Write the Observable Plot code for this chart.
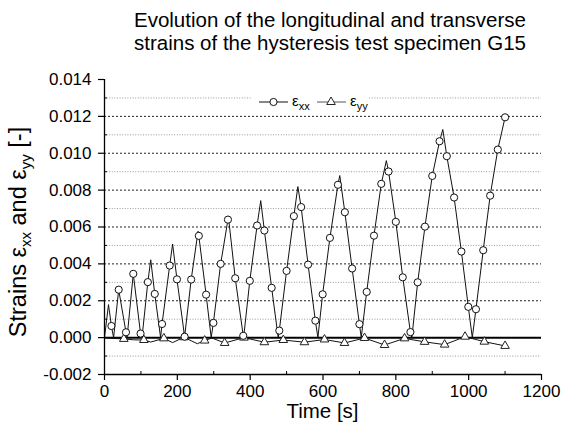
<!DOCTYPE html>
<html><head><meta charset="utf-8">
<script src="https://cdn.jsdelivr.net/npm/d3@7"></script>
<script src="https://cdn.jsdelivr.net/npm/@observablehq/plot@0.6"></script>
<style>
body{margin:0;background:#fff;font-family:"Liberation Sans",Arial,sans-serif;color:#000;}
#wrap{position:relative;width:561px;height:434px;overflow:hidden;}
#title{height:60px;box-sizing:border-box;padding-top:8px;padding-left:99px;width:561px;text-align:center;font-size:20.5px;line-height:23px;}
#xlabel{position:absolute;left:104px;width:437px;top:401px;text-align:center;font-size:20.5px;line-height:20px;}
#ylabel{position:absolute;left:19px;top:232px;transform:translate(-50%,-50%) rotate(-90deg);white-space:nowrap;font-size:23.5px;}
#ylabel sub{font-size:15px;vertical-align:-5px;}
#legend{position:absolute;left:252px;top:92px;width:117px;height:20px;background:#fff;}
svg text{font-family:"Liberation Sans",Arial,sans-serif;}
</style></head>
<body>
<div id="wrap">
<div id="title">Evolution of the longitudinal and transverse<br>strains of the hysteresis test specimen G15</div>
<div id="chart"></div>
<div id="xlabel">Time [s]</div>
<div id="ylabel">Strains ε<sub>xx</sub> and ε<sub>yy</sub> [-]</div>
<div id="legend"></div>
</div>
<script>
// ε_xx: samples drawn with a circle marker
const xxMarkT = [19,39,59,79,99,119,138,158,179,199,220,238,259,279,299,319,339,359,381,399,419,439,459,480,500,520,540,559,579,599,619,641,660,680,700,720,740,760,780,800,819,840,860,880,900,920,940,960,980,999,1020,1040,1059,1080,1100];
const xxMarkV = [0.00063,0.0026,0.00029,0.00346,0.00022,0.00301,0.00237,0.00074,0.00391,0.00316,0.00005,0.00315,0.00552,0.00233,0.0008,0.004,0.0064,0.00322,0.0001,0.00308,0.00608,0.00581,0.0027,0.00038,0.00362,0.00659,0.00708,0.00396,0.00092,0.00235,0.00541,0.00829,0.0068,0.00375,0.00073,0.00248,0.00553,0.00834,0.00901,0.00628,0.00327,0.0003,0.003,0.00602,0.00877,0.01065,0.00984,0.0076,0.00467,0.00167,0.00154,0.00474,0.0077,0.0102,0.01195];
// ε_xx: unmarked samples (peaks and troughs)
const xxVertT = [0,11,25,62,103,127,154,187,257,293,340,382,429,477,531,586,646,705,774,844,929,1010];
const xxVertV = [0,0.00179,0,0,0,0.00422,0,0.00508,0.00577,0,0.0066,0,0.00743,0,0.00819,0,0.00879,0,0.0096,0,0.01129,0];
// ε_yy: samples drawn with a triangle marker
const yyMarkT = [53,108,163,218,275,330,383,439,491,549,604,659,714,769,824,879,934,990,1043,1100];
const yyMarkV = [-0.00007,-0.00013,-0.00004,0.00002,-0.00016,-0.00029,0,-0.00025,-0.00013,-0.00025,-0.0001,-0.00029,-0.00002,-0.0004,-0.00004,-0.00023,-0.00038,0.00005,-0.00022,-0.00045];
// ε_yy: unmarked samples
const yyVertT = [0,20,80,127,187,255,295];
const yyVertV = [0,-0.00004,-0.00012,-0.00024,-0.00027,-0.00033,-0.00002];

const xTicks = [0,200,400,600,800,1000,1200];
const xMinor = [100,300,500,700,900,1100];
const yTicks = [-0.002,0,0.002,0.004,0.006,0.008,0.010,0.012,0.014];
const yMinor = [-0.001,0.001,0.003,0.005,0.007,0.009,0.011,0.013];
const yMajorGrid = [0.002,0.004,0.006,0.008,0.010,0.012];

const zip = (T, V) => T.map((t, i) => ({t, v: V[i]}));
const xxMarks = zip(xxMarkT, xxMarkV);
const xxLine = [...xxMarks, ...zip(xxVertT, xxVertV)].sort((a, b) => a.t - b.t);
const yyMarks = zip(yyMarkT, yyMarkV);
const yyLine = [...yyMarks, ...zip(yyVertT, yyVertV)].sort((a, b) => a.t - b.t);

const chart = Plot.plot({
  width: 561, height: 374,
  marginLeft: 104, marginRight: 20, marginTop: 19, marginBottom: 60,
  style: {fontFamily: '"Liberation Sans", Arial, sans-serif', fontSize: "17px", color: "#000", background: "#fff"},
  x: {domain: [0, 1200]},
  y: {domain: [-0.002, 0.014]},
  marks: [
    Plot.ruleY(yMinor, {stroke: "#9a9a9a", strokeDasharray: "1,1.6", strokeWidth: 1}),
    Plot.ruleY(yMajorGrid, {stroke: "#222", strokeDasharray: "2,2", strokeWidth: 1}),
    Plot.ruleY([0], {stroke: "#000", strokeWidth: 2}),
    Plot.line(yyLine, {x: "t", y: "v", stroke: "#111", strokeWidth: 1}),
    Plot.line(xxLine, {x: "t", y: "v", stroke: "#111", strokeWidth: 1}),
    Plot.dot(yyMarks, {x: "t", y: "v", symbol: "triangle", r: 3.2, fill: "#fff", stroke: "#222", strokeWidth: 1}),
    Plot.dot(xxMarks, {x: "t", y: "v", r: 3.6, fill: "#fff", stroke: "#111", strokeWidth: 1}),
    Plot.ruleX([0], {stroke: "#000", strokeWidth: 1.3}),
    Plot.ruleY([-0.002], {stroke: "#000", strokeWidth: 1.3}),
    Plot.axisY(yTicks, {tickSize: 6, tickPadding: 7, fontSize: 17, tickFormat: d => d.toFixed(3), label: null, strokeWidth: 1.2}),
    Plot.axisY(yMinor, {tickSize: 3, dx: 3, tickFormat: () => "", label: null}),
    Plot.axisX(xTicks, {tickSize: 6, tickPadding: 4, fontSize: 17, tickFormat: d => String(d), label: null, strokeWidth: 1.2}),
    Plot.axisX(xMinor, {tickSize: 3, dy: -3, tickFormat: () => "", label: null})
  ]
});
document.getElementById("chart").appendChild(chart);

// legend
const lg = d3.select("#legend").append("svg").attr("width", 117).attr("height", 20);
lg.append("line").attr("x1", 7).attr("x2", 36).attr("y1", 10).attr("y2", 10).attr("stroke", "#111");
lg.append("circle").attr("cx", 21.5).attr("cy", 10).attr("r", 3.6).attr("fill", "#fff").attr("stroke", "#111");
const t1 = lg.append("text").attr("x", 40).attr("y", 14).attr("font-size", 15).attr("font-family", '"Liberation Sans", Arial, sans-serif');
t1.append("tspan").text("ε");
t1.append("tspan").attr("dy", 4).attr("font-size", 11).text("xx");
lg.append("line").attr("x1", 65).attr("x2", 94).attr("y1", 10).attr("y2", 10).attr("stroke", "#555");
lg.append("path").attr("d", d3.symbol(d3.symbolTriangle, Math.PI * 3.2 * 3.2)()).attr("transform", "translate(79,10)").attr("fill", "#fff").attr("stroke", "#222");
const t2 = lg.append("text").attr("x", 98).attr("y", 14).attr("font-size", 15).attr("font-family", '"Liberation Sans", Arial, sans-serif');
t2.append("tspan").text("ε");
t2.append("tspan").attr("dy", 4).attr("font-size", 11).text("yy");
</script>
</body></html>
